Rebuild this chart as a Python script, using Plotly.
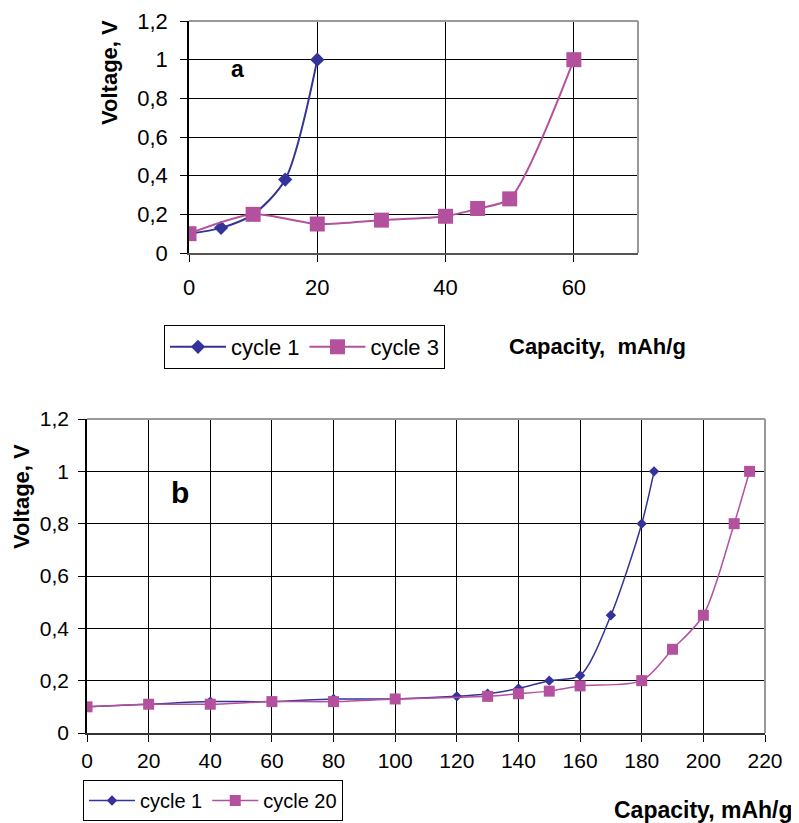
import plotly.graph_objects as go

# ---- data: panel a ----
a_c1_cap = [0, 5, 10, 15, 20]
a_c1_volt = [0.10, 0.13, 0.20, 0.38, 1.00]
a_c3_cap = [0, 10, 20, 30, 40, 45, 50, 60]
a_c3_volt = [0.10, 0.20, 0.15, 0.17, 0.19, 0.23, 0.28, 1.00]

# ---- data: panel b ----
b_c1_cap = [0, 20, 40, 60, 80, 100, 120, 130, 140, 150, 160, 170, 180, 184]
b_c1_volt = [0.10, 0.11, 0.12, 0.12, 0.13, 0.13, 0.14, 0.15, 0.17, 0.20, 0.22, 0.45, 0.80, 1.00]
b_c20_cap = [0, 20, 40, 60, 80, 100, 130, 140, 150, 160, 180, 190, 200, 210, 215]
b_c20_volt = [0.10, 0.11, 0.11, 0.12, 0.12, 0.13, 0.14, 0.15, 0.16, 0.18, 0.20, 0.32, 0.45, 0.80, 1.00]

# labels
a_names = ["cycle 1", "cycle 3"]
b_names = ["cycle 1", "cycle 20"]
y_title = "Voltage, V"
a_x_title = "Capacity,  mAh/g"
b_x_title = "Capacity, mAh/g"

NAVY = "#333399"
MAG = "#B4519F"
FONT = "Liberation Sans, Arial, sans-serif"

# page body has an 8px margin; figure fills the rest of the 799x823 window
OFF = 8
W, H = 799 - OFF, 823 - OFF

def px(x):
    return (x - OFF) / W

def py(y):
    return 1 - (y - OFF) / H

fig = go.Figure()

fig.add_trace(go.Scatter(x=a_c1_cap, y=a_c1_volt, name=a_names[0], mode="lines+markers",
                         line=dict(color=NAVY, width=2, shape="spline", smoothing=0.8),
                         marker=dict(symbol="diamond", size=11, color=NAVY),
                         xaxis="x", yaxis="y", legend="legend"))
fig.add_trace(go.Scatter(x=a_c3_cap, y=a_c3_volt, name=a_names[1], mode="lines+markers",
                         line=dict(color=MAG, width=2, shape="spline", smoothing=0.7),
                         marker=dict(symbol="square", size=15, color=MAG),
                         xaxis="x", yaxis="y", legend="legend"))
fig.add_trace(go.Scatter(x=b_c1_cap, y=b_c1_volt, name=b_names[0], mode="lines+markers",
                         line=dict(color=NAVY, width=1.5, shape="spline", smoothing=0.8),
                         marker=dict(symbol="diamond", size=8, color=NAVY),
                         xaxis="x2", yaxis="y2", legend="legend2"))
fig.add_trace(go.Scatter(x=b_c20_cap, y=b_c20_volt, name=b_names[1], mode="lines+markers",
                         line=dict(color=MAG, width=1.5, shape="spline", smoothing=0.8),
                         marker=dict(symbol="square", size=11, color=MAG),
                         xaxis="x2", yaxis="y2", legend="legend2"))

axis_common = dict(showline=True, ticks="outside", ticklen=7, tickcolor="black",
                   showgrid=True, gridcolor="black", gridwidth=1, zeroline=False,
                   fixedrange=True, automargin=False)

fig.update_layout(
    template="none",
    width=W, height=H, margin=dict(l=0, r=0, t=0, b=0, pad=0, autoexpand=False),
    paper_bgcolor="white", plot_bgcolor="white",
    separators=", ",
    font=dict(family=FONT, color="black", size=21),
    xaxis=dict(domain=[px(189), px(638)], anchor="y", range=[0, 70], dtick=20, tick0=0,
               linecolor="#555555", linewidth=2, ticklabelstandoff=7,
               tickfont=dict(size=22, family=FONT), **axis_common),
    yaxis=dict(domain=[py(253), py(21)], anchor="x", range=[0, 1.2], dtick=0.2, tick0=0,
               linecolor="black", linewidth=1.5, ticklabelstandoff=8,
               tickfont=dict(size=22, family=FONT), **axis_common),
    xaxis2=dict(domain=[px(87), px(765)], anchor="y2", range=[0, 220], dtick=20, tick0=0,
                linecolor="#333333", linewidth=2, ticklabelstandoff=1,
                tickfont=dict(size=21, family=FONT), **axis_common),
    yaxis2=dict(domain=[py(733), py(419)], anchor="x2", range=[0, 1.2], dtick=0.2, tick0=0,
                linecolor="black", linewidth=1.5, ticklabelstandoff=5,
                tickfont=dict(size=21, family=FONT), **axis_common),
    legend=dict(x=px(164), y=py(325), xanchor="left", yanchor="top", orientation="h",
                bordercolor="black", borderwidth=1, bgcolor="white",
                font=dict(size=22, family=FONT), itemwidth=56, tracegroupgap=0),
    legend2=dict(x=px(83), y=py(780), xanchor="left", yanchor="top", orientation="h",
                 bordercolor="black", borderwidth=1, bgcolor="white",
                 font=dict(size=20, family=FONT), itemwidth=46),
    showlegend=True,
)

# plot-area borders (top and right) in grey
for xr, yr in (("x domain", "y domain"), ("x2 domain", "y2 domain")):
    fig.add_shape(type="line", xref=xr, yref=yr, x0=0, x1=1, y0=1, y1=1,
                  line=dict(color="#999999", width=2))
    fig.add_shape(type="line", xref=xr, yref=yr, x0=1, x1=1, y0=0, y1=1,
                  line=dict(color="#999999", width=2))

def note(text, x, y, size, angle=0, xanchor="center"):
    fig.add_annotation(text=text, xref="paper", yref="paper", x=px(x), y=py(y),
                       xanchor=xanchor, yanchor="middle", textangle=angle,
                       showarrow=False, font=dict(size=size, family=FONT, color="black"))

note("<b>" + y_title + "</b>", 110, 73, 22, angle=-90)
note("<b>" + y_title + "</b>", 21, 497, 22, angle=-90)
note("<b>a</b>", 237, 69, 23)
note("<b>b</b>", 180, 492, 30)
note("<b>" + a_x_title.replace("  ", "&nbsp;&nbsp;") + "</b>", 597, 346, 22)
note("<b>" + b_x_title + "</b>", 703, 810, 23)

fig.write_html("out.html")
